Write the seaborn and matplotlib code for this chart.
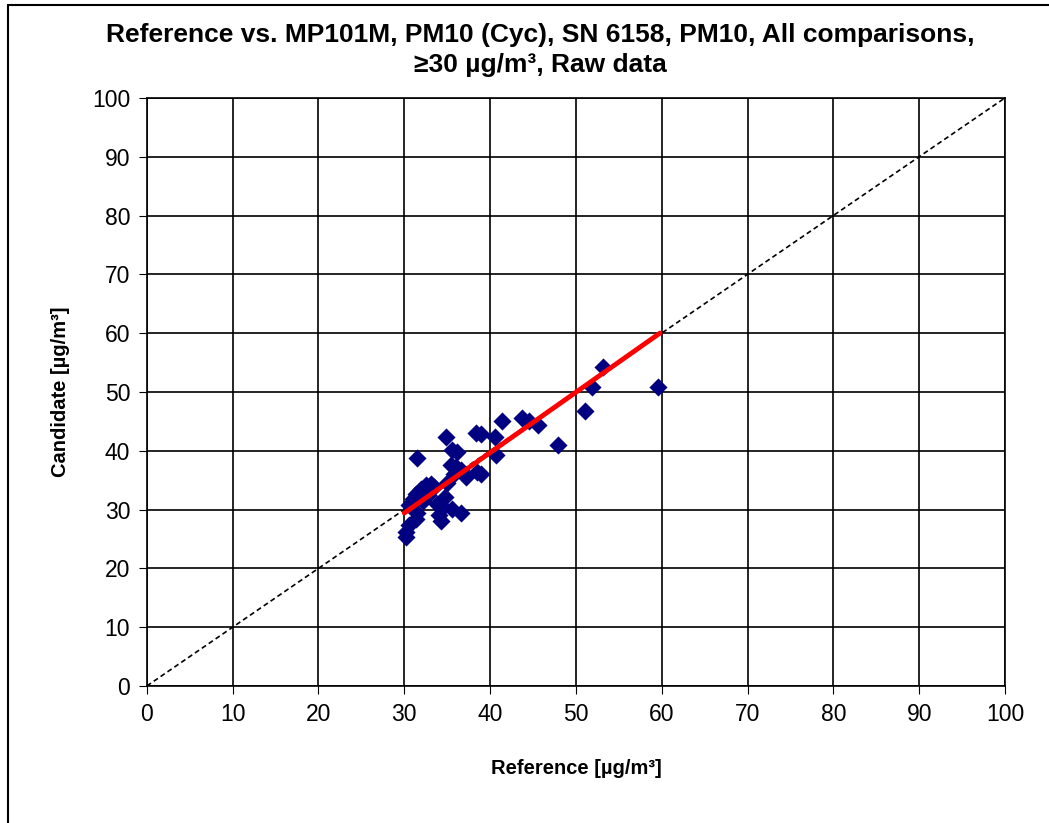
import seaborn as sns
import matplotlib.pyplot as plt
import matplotlib.lines as mlines
import pandas as pd

# Reference vs candidate values (ug/m3)
reference = [30.2, 30.2, 30.5, 31.4, 30.6, 31.0, 31.4, 31.9, 32.5, 33.1,
             33.5, 32.2, 31.5, 32.8, 31.5, 34.1, 34.3, 34.5, 34.7, 35.6,
             36.6, 35.4, 36.0, 36.6, 37.2, 38.5, 38.9, 34.9, 35.6, 36.2,
             38.3, 38.9, 40.6, 40.7, 41.4, 43.7, 44.5, 45.6, 47.9, 51.1,
             51.9, 53.2, 59.6, 35.0, 33.8, 35.8]
candidate = [25.3, 26.1, 27.3, 28.4, 30.7, 31.8, 32.7, 33.5, 34.1, 34.4,
             33.8, 31.5, 29.5, 32.5, 38.8, 29.0, 28.1, 30.4, 32.1, 30.1,
             29.5, 37.5, 37.3, 36.7, 35.5, 36.4, 36.0, 42.3, 40.1, 39.8,
             43.0, 42.8, 42.4, 39.3, 45.0, 45.5, 45.1, 44.4, 41.0, 46.7,
             50.9, 54.2, 50.8, 34.5, 31.0, 36.0]

# regression line
fit_slope = 1.027
fit_intercept = -1.4
fit_range = [30.0, 59.8]

ticks = list(range(0, 101, 10))

df = pd.DataFrame({"Reference": reference, "Candidate": candidate})

sns.set_style("white")
plt.rcParams['font.family'] = ['Liberation Sans', 'DejaVu Sans']
plt.rcParams['text.color'] = 'black'
plt.rcParams['axes.labelcolor'] = 'black'
plt.rcParams['xtick.color'] = 'black'
plt.rcParams['ytick.color'] = 'black'

fig = plt.figure(figsize=(10.49, 8.23), dpi=100)
ax = fig.add_axes([0.140, 0.1665, 0.818, 0.7145])

# 1:1 line
ax.plot([0, 100], [0, 100], linestyle=(0, (3, 2)), color="black", lw=1.2, zorder=2)

sns.scatterplot(data=df, x="Reference", y="Candidate", marker="D", s=85,
                color="#000080", edgecolor="#000080", linewidth=0, ax=ax, zorder=3)

fit_y = [fit_slope * v + fit_intercept for v in fit_range]
ax.plot(fit_range, fit_y, color="#ff0000", lw=3.5, zorder=4)

ax.set_xlim(0, 100)
ax.set_ylim(0, 100)
ax.set_xticks(ticks)
ax.set_yticks(ticks)
ax.grid(True, color="black", lw=1.2)
ax.set_axisbelow(True)
for sp in ax.spines.values():
    sp.set_color("black")
    sp.set_linewidth(1.2)
ax.tick_params(axis="both", labelsize=16.5, length=6, direction="out",
               left=True, bottom=True, color="black", pad=6)

ax.set_xlabel("Reference [µg/m³]", fontsize=14.5, fontweight="bold", labelpad=24)
ax.set_ylabel("Candidate [µg/m³]", fontsize=14.5, fontweight="bold", labelpad=16)
fig.suptitle("Reference vs. MP101M, PM10 (Cyc), SN 6158, PM10, All comparisons,\n"
             "≥30 µg/m³, Raw data", fontsize=19, fontweight="bold", y=0.972,
             x=0.515, linespacing=1.3)

# outer frame: only top and left edges are visible
fig.add_artist(mlines.Line2D([0.0076, 1.0], [0.994, 0.994], transform=fig.transFigure,
                             color="black", lw=1.5))
fig.add_artist(mlines.Line2D([0.0076, 0.0076], [0.0, 0.994], transform=fig.transFigure,
                             color="black", lw=1.5))

fig.savefig("out.png", dpi=100)
